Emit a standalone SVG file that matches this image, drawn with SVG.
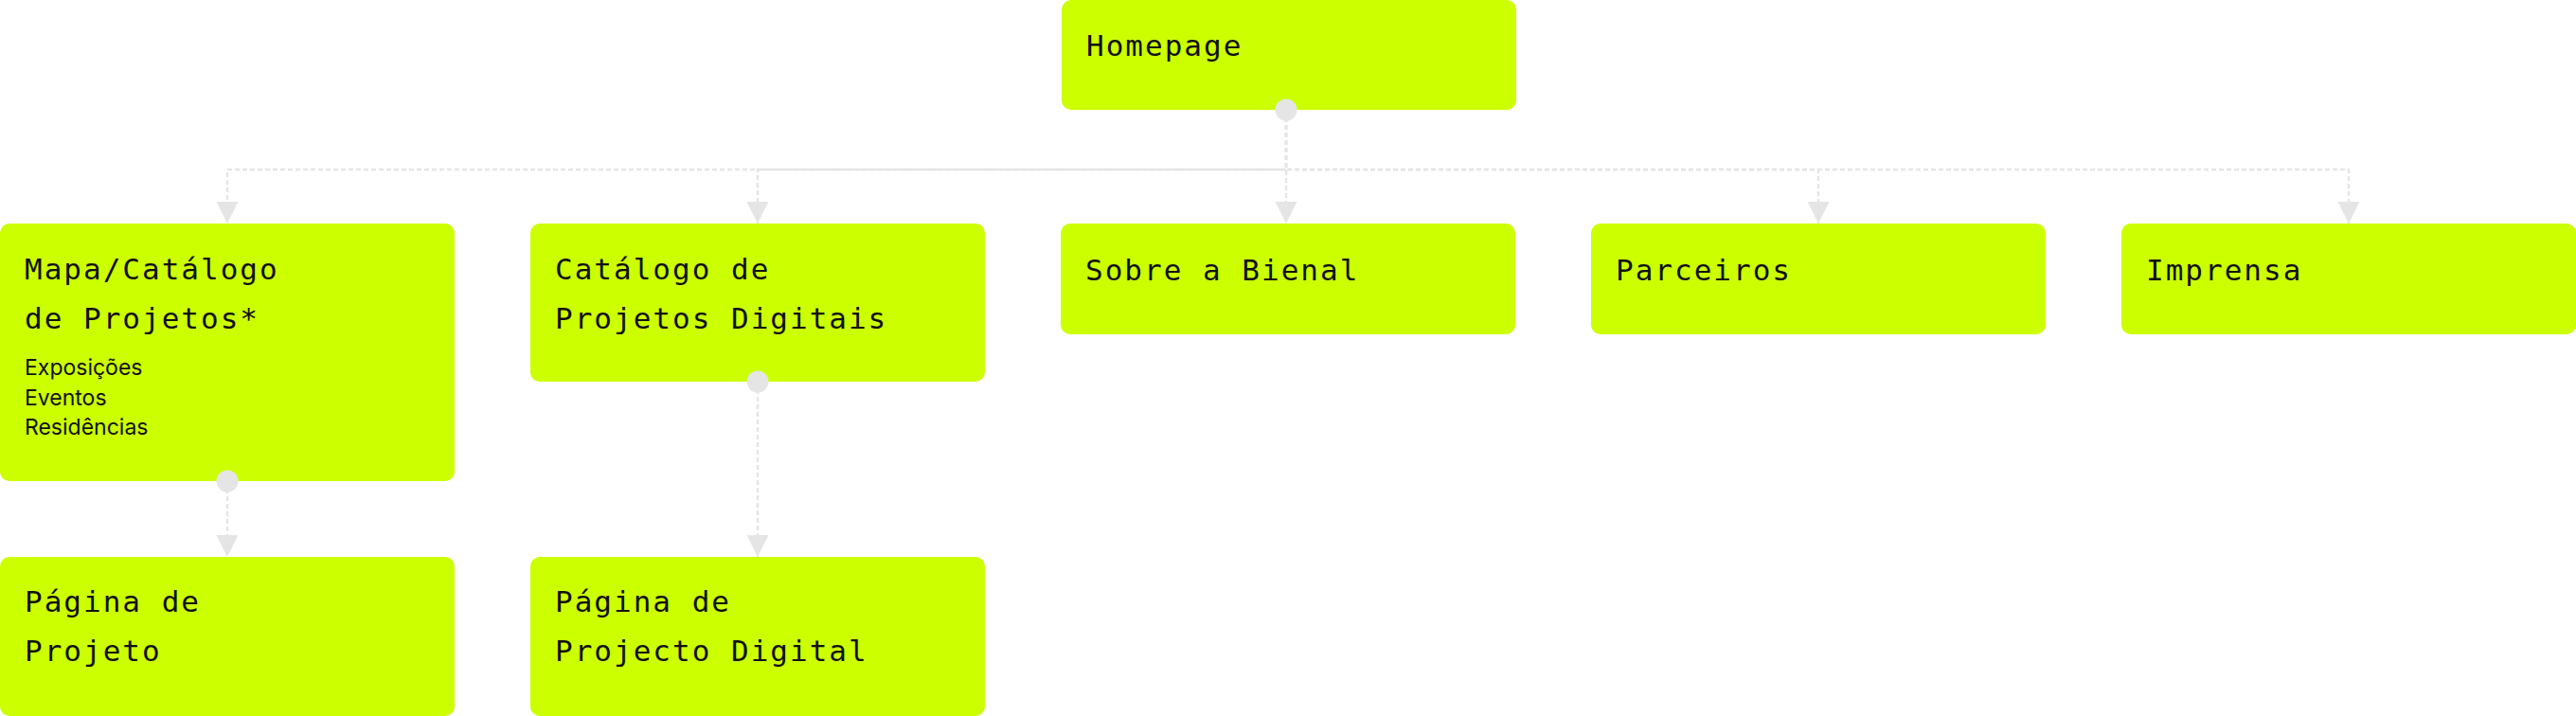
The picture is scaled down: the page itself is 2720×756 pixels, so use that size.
<svg xmlns="http://www.w3.org/2000/svg" width="2720" height="756" viewBox="0 0 2720 756">
  <style>
    .box { fill: #ccff00; }
    .t { font-family: "DejaVu Sans Mono", "Liberation Mono", monospace; font-size: 31px; letter-spacing: 2px; fill: #111111; }
    .s { font-family: Inter, "Liberation Sans", sans-serif; font-size: 23px; fill: #111111; }
    .edge { fill: none; stroke: #e5e5e5; stroke-width: 2.5; stroke-dasharray: 5 3; }
    .dot { fill: #e5e5e5; }
  </style>
  <defs>
    <marker id="arrow" markerUnits="userSpaceOnUse" markerWidth="24" markerHeight="24" viewBox="0 0 24 24" refX="23" refY="12" orient="auto">
      <path d="M0,0.5 L23,12 L0,23.5 Z" fill="#e5e5e5"/>
    </marker>
  </defs>
  <rect width="2720" height="756" fill="#ffffff"/>
  <g id="node-homepage">
    <rect class="box" x="1121" y="0" width="480" height="116" rx="10"/>
    <text class="t" x="1147" y="59">Homepage</text>
  </g>
  <g id="node-mapa">
    <rect class="box" x="0" y="236" width="480" height="272" rx="10"/>
    <text class="t" x="26" y="295">Mapa/Catálogo</text>
    <text class="t" x="26" y="347">de Projetos*</text>
    <text class="s" x="26" y="396">Exposições</text>
    <text class="s" x="26" y="428">Eventos</text>
    <text class="s" x="26" y="459">Residências</text>
  </g>
  <g id="node-catalogo">
    <rect class="box" x="560" y="236" width="480" height="167" rx="10"/>
    <text class="t" x="586" y="295">Catálogo de</text>
    <text class="t" x="586" y="347">Projetos Digitais</text>
  </g>
  <g id="node-sobre">
    <rect class="box" x="1120" y="236" width="480" height="117" rx="10"/>
    <text class="t" x="1146" y="296">Sobre a Bienal</text>
  </g>
  <g id="node-parceiros">
    <rect class="box" x="1680" y="236" width="480" height="117" rx="10"/>
    <text class="t" x="1706" y="296">Parceiros</text>
  </g>
  <g id="node-imprensa">
    <rect class="box" x="2240" y="236" width="480" height="117" rx="10"/>
    <text class="t" x="2266" y="296">Imprensa</text>
  </g>
  <g id="node-pagina-projeto">
    <rect class="box" x="0" y="588" width="480" height="168" rx="10"/>
    <text class="t" x="26" y="646">Página de</text>
    <text class="t" x="26" y="698">Projeto</text>
  </g>
  <g id="node-pagina-digital">
    <rect class="box" x="560" y="588" width="480" height="168" rx="10"/>
    <text class="t" x="586" y="646">Página de</text>
    <text class="t" x="586" y="698">Projecto Digital</text>
  </g>
  <g id="connectors">
    <path class="edge" d="M1358,116 V179 H240 V236" marker-end="url(#arrow)"/>
    <path class="edge" d="M1358,179 H800 V236" stroke-dashoffset="4" marker-end="url(#arrow)"/>
    <path class="edge" d="M1358,116 V236" marker-end="url(#arrow)"/>
    <path class="edge" d="M1358,116 V179 H1920 V236" marker-end="url(#arrow)"/>
    <path class="edge" d="M1358,116 V179 H2480 V236" marker-end="url(#arrow)"/>
    <path class="edge" d="M240,508 V588" marker-end="url(#arrow)"/>
    <path class="edge" d="M800,403 V588" marker-end="url(#arrow)"/>
    <circle class="dot" cx="1358" cy="116" r="11.5"/>
    <circle class="dot" cx="240" cy="508" r="11.5"/>
    <circle class="dot" cx="800" cy="403" r="11.5"/>
  </g>
</svg>
